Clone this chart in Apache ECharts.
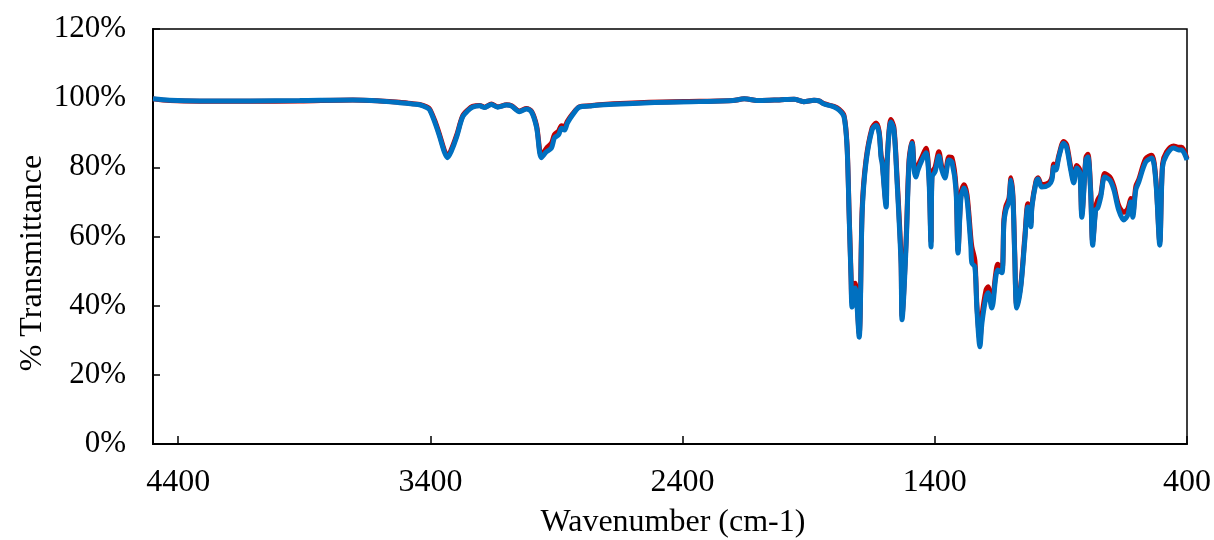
<!DOCTYPE html>
<html>
<head>
<meta charset="utf-8">
<title>FTIR spectrum</title>
<script src="https://cdn.jsdelivr.net/npm/echarts@6/dist/echarts.min.js"></script>
<style>
  html, body { margin: 0; padding: 0; background: #fff; }
  #chart { width: 1214px; height: 540px; }
</style>
</head>
<body>
<div id="chart"></div>
<script>
// Wavenumber positions (cm-1) of the sampled spectrum points
const wavenumbers = [
  4500, 4433, 4314, 4116, 3918, 3708, 3600, 3522, 3470, 3443, 3415, 3403, 3380, 3363, 3345, 3332, 3318, 3296, 3272, 3250,
  3233, 3205, 3185, 3158, 3134, 3098, 3078, 3047, 3019, 2999, 2979, 2960, 2940, 2920, 2908, 2892, 2880, 2868, 2857, 2837,
  2809, 2770, 2730, 2532, 2334, 2200, 2156, 2096, 2017, 1958, 1920, 1879, 1859, 1839, 1800, 1780, 1760, 1748, 1740, 1732,
  1728, 1716, 1700, 1688, 1673, 1649, 1633, 1621, 1613, 1609, 1593, 1589, 1574, 1562, 1550, 1534, 1530, 1514, 1502, 1490,
  1482, 1475, 1467, 1451, 1435, 1423, 1415, 1411, 1399, 1384, 1372, 1360, 1344, 1332, 1316, 1308, 1296, 1284, 1272, 1257,
  1253, 1241, 1233, 1221, 1213, 1197, 1189, 1174, 1158, 1150, 1134, 1126, 1118, 1106, 1098, 1090, 1083, 1075, 1059, 1043,
  1031, 1019, 1015, 999, 991, 976, 948, 936, 928, 920, 908, 889, 877, 861, 849, 837, 825, 817, 801, 793,
  782, 774, 762, 754, 742, 726, 706, 690, 671, 651, 635, 623, 615, 603, 591, 564, 540, 524, 508, 497,
  481, 453, 433, 421, 400
];

// Transmittance (%) of the blue trace
const blueSeries = [
  99.8, 99.4, 99.2, 99.2, 99.3, 99.5, 99.2, 98.7, 98.3, 98.1, 97.3, 96.6, 92.5, 88.8, 84.5, 82.8, 84.5, 88.8, 94.6, 96.5,
  97.4, 97.8, 97.3, 98.2, 97.4, 98.0, 97.7, 96.1, 96.9, 96.0, 91.5, 82.8, 84.5, 85.6, 88.5, 89.4, 91.3, 90.8, 92.8, 95.1,
  97.4, 97.7, 98.0, 98.7, 99.0, 99.3, 99.8, 99.3, 99.5, 99.7, 99.0, 99.4, 99.2, 98.3, 97.5, 96.6, 94.6, 85.9, 66.8, 47.4,
  39.6, 45.1, 30.9, 66.8, 81.3, 90.8, 92.2, 89.9, 82.7, 81.3, 68.5, 81.3, 93.1, 90.8, 76.3, 52.3, 35.9, 57.0, 81.3, 87.0,
  79.2, 77.2, 79.2, 82.1, 84.2, 76.3, 57.0, 77.2, 78.7, 83.3, 79.2, 76.9, 82.1, 81.5, 73.5, 55.2, 71.4, 74.0, 70.6, 57.0,
  52.3, 51.2, 38.8, 28.1, 35.0, 42.5, 43.7, 39.3, 48.3, 50.3, 49.5, 63.9, 67.7, 70.0, 76.3, 70.6, 54.1, 39.3, 45.4, 59.0,
  68.5, 62.8, 68.5, 75.5, 76.6, 74.3, 74.9, 76.3, 80.1, 79.2, 83.0, 87.0, 85.6, 79.2, 75.5, 79.8, 78.4, 65.6, 82.1, 83.0,
  72.6, 57.5, 67.7, 68.2, 71.4, 77.2, 76.3, 73.5, 67.7, 64.8, 66.2, 70.0, 65.6, 73.5, 75.8, 81.5, 82.7, 76.3, 57.5, 80.1,
  83.6, 85.6, 85.0, 85.0, 82.1
];

// Transmittance (%) of the red trace
const redSeries = [
  99.8, 99.3, 99.1, 99.1, 99.2, 99.5, 99.2, 98.8, 98.4, 98.2, 97.5, 96.9, 93.0, 89.3, 85.0, 83.3, 85.0, 89.3, 94.9, 96.7,
  97.6, 97.9, 97.4, 98.3, 97.5, 98.1, 97.8, 96.3, 97.0, 96.2, 92.0, 83.5, 85.5, 87.0, 89.5, 90.5, 92.0, 91.8, 93.3, 95.4,
  97.5, 97.8, 98.1, 98.8, 99.1, 99.3, 99.8, 99.3, 99.5, 99.7, 99.0, 99.4, 99.2, 98.4, 97.6, 96.8, 95.0, 86.5, 67.5, 48.5,
  41.0, 46.5, 32.0, 68.0, 82.0, 91.3, 92.8, 90.5, 83.5, 82.0, 69.5, 82.0, 93.8, 91.5, 77.5, 54.0, 37.0, 58.5, 82.3, 87.5,
  80.5, 78.5, 80.3, 83.0, 85.5, 77.5, 58.5, 78.5, 80.0, 84.5, 80.0, 77.8, 83.0, 82.8, 74.5, 56.0, 72.5, 75.0, 72.0, 59.5,
  57.0, 53.0, 40.0, 30.0, 37.0, 44.5, 45.5, 41.0, 49.5, 52.0, 50.5, 65.0, 68.8, 71.0, 77.0, 71.5, 55.0, 40.0, 46.0, 60.0,
  69.5, 64.0, 69.0, 76.0, 77.0, 75.0, 75.5, 77.0, 81.0, 80.0, 83.5, 87.5, 86.5, 80.0, 76.5, 80.5, 79.2, 66.5, 82.8, 83.8,
  73.5, 58.5, 68.5, 70.6, 72.2, 78.2, 77.2, 74.5, 69.0, 67.0, 68.0, 71.0, 66.5, 74.5, 76.5, 82.5, 83.5, 77.0, 58.5, 81.0,
  84.5, 86.2, 85.8, 85.8, 82.5
];

// Axis tick labels
const xTickLabels = [4400, 3400, 2400, 1400, 400];
const yTickLabels = [0, 20, 40, 60, 80, 100, 120];

const FONT = "'Liberation Serif', 'Times New Roman', serif";

const toPairs = (vals) => wavenumbers.map((w, i) => [w, vals[i]]);

const chart = echarts.init(document.getElementById('chart'), null, { renderer: 'canvas' });

chart.setOption({
  animation: false,
  backgroundColor: '#ffffff',
  grid: {
    left: 153, right: 26, top: 29, bottom: 96,
    show: true, borderColor: '#000', borderWidth: 1.5, backgroundColor: 'transparent'
  },
  xAxis: {
    type: 'value',
    min: 400, max: 4500, interval: 1000,
    inverse: true,
    axisLine: { show: true, lineStyle: { color: '#000', width: 2 } },
    axisTick: { show: true, inside: true, length: 8, lineStyle: { color: '#000', width: 1.5 } },
    splitLine: { show: false },
    axisLabel: {
      show: true, margin: 23, color: '#000', fontFamily: FONT, fontSize: 32,
      formatter: (v) => xTickLabels.includes(v) ? String(v) : ''
    }
  },
  yAxis: {
    type: 'value',
    min: 0, max: 120, interval: 20,
    axisLine: { show: true, lineStyle: { color: '#000', width: 2 } },
    axisTick: { show: true, inside: true, length: 7, lineStyle: { color: '#000', width: 1.5 } },
    splitLine: { show: false },
    axisLabel: {
      show: true, margin: 27, color: '#000', fontFamily: FONT, fontSize: 31,
      formatter: (v) => yTickLabels.includes(v) ? v + '%' : ''
    }
  },
  graphic: [
    {
      type: 'text', x: 673, y: 523,
      style: { text: 'Wavenumber (cm-1)', fontFamily: FONT, fontSize: 32, fill: '#000', align: 'center', verticalAlign: 'middle' }
    },
    {
      type: 'text', x: 33, y: 263, rotation: Math.PI / 2,
      style: { text: '% Transmittance', fontFamily: FONT, fontSize: 32, fill: '#000', align: 'center', verticalAlign: 'middle' }
    }
  ],
  series: [
    {
      name: 'red', type: 'line', data: toPairs(redSeries),
      showSymbol: false, smooth: 0.3, clip: true,
      lineStyle: { color: '#C00000', width: 5 }, itemStyle: { color: '#C00000' }
    },
    {
      name: 'blue', type: 'line', data: toPairs(blueSeries),
      showSymbol: false, smooth: 0.3, clip: true,
      lineStyle: { color: '#0070C0', width: 5 }, itemStyle: { color: '#0070C0' }
    }
  ]
});
</script>
</body>
</html>
